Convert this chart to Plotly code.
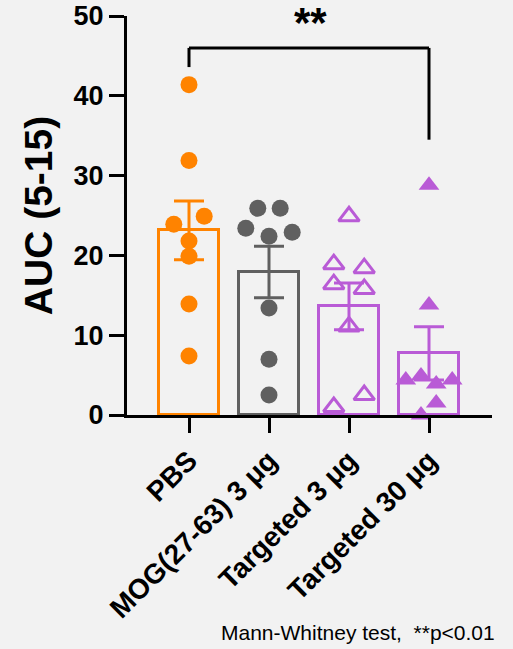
import numpy as np
import plotly.graph_objects as go

# ---------------- data ----------------
categories = ["PBS", "MOG(27-63) 3 μg", "Targeted 3 μg", "Targeted 30 μg"]

pbs_values = [41.4, 31.9, 23.9, 24.9, 21.8, 19.9, 13.9, 7.4]
mog_values = [25.9, 25.9, 23.4, 22.4, 22.9, 13.4, 7.0, 2.5]
t3_values = [24.9, 18.9, 18.4, 16.4, 15.8, 11.1, 2.5, 1.0]
t30_values = [28.8, 13.8, 4.4, 4.9, 4.4, 3.9, 1.5, 0.0]

# horizontal scatter of the dots (category units)
pbs_jitter = [0, 0, -0.19, 0.19, 0, 0, 0, 0]
mog_jitter = [-0.14, 0.14, -0.29, 0.0, 0.29, 0, 0, 0]
t3_jitter = [0, -0.19, 0.19, -0.19, 0.19, 0, 0.19, -0.19]
t30_jitter = [0, 0, -0.29, -0.1, 0.29, 0.09, 0.09, -0.1]

y_ticks = [0, 10, 20, 30, 40, 50]
footnote = "Mann-Whitney test,&nbsp;&nbsp;**p<0.01"
sig_label = "**"

# ---------------- style ----------------
BG = "#f2f2f2"
FONT = "Liberation Sans, Arial, sans-serif"
colors = ["#ff8300", "#606060", "#b95bd6", "#b95bd6"]
symbols = ["circle", "circle", "triangle-up-open", "triangle-up"]
groups = [pbs_values, mog_values, t3_values, t30_values]
jitters = [pbs_jitter, mog_jitter, t3_jitter, t30_jitter]

fig = go.Figure()

for i, (vals, col) in enumerate(zip(groups, colors)):
    arr = np.array(vals)
    mean = arr.mean()
    sem = arr.std(ddof=1) / np.sqrt(len(arr))
    fig.add_trace(go.Bar(
        x=[i], y=[mean], width=0.74,
        marker=dict(color="rgba(0,0,0,0)", line=dict(color=col, width=3)),
        error_y=dict(type="data", array=[sem], visible=True, color=col,
                     thickness=3, width=15),
        showlegend=False, hoverinfo="skip",
    ))

for i, (vals, jit, col, sym) in enumerate(zip(groups, jitters, colors, symbols)):
    fig.add_trace(go.Scatter(
        x=[i + j for j in jit], y=vals, mode="markers",
        marker=dict(symbol=sym, size=17 if "circle" in sym else 18, color=col,
                    line=dict(color=col, width=3 if "open" in sym else 0)),
        showlegend=False, cliponaxis=False,
    ))

# significance bracket PBS vs Targeted 30 μg
sig_top, sig_left_end, sig_right_end = 46.0, 43.6, 34.5
line_style = dict(color="black", width=3)
fig.add_shape(type="line", x0=0, x1=3, y0=sig_top, y1=sig_top, line=line_style)
fig.add_shape(type="line", x0=0, x1=0, y0=sig_top, y1=sig_left_end, line=line_style)
fig.add_shape(type="line", x0=3, x1=3, y0=sig_top, y1=sig_right_end, line=line_style)
fig.add_annotation(x=1.52, y=sig_top, yanchor="bottom", yshift=0, text=sig_label,
                   showarrow=False, font=dict(family=FONT, size=42, color="black", weight="bold"))

fig.add_annotation(xref="paper", yref="paper", x=1.0, xanchor="right", xshift=5, y=-0.546,
                   yanchor="middle", text=footnote, showarrow=False,
                   font=dict(family=FONT, size=21, color="black"))

fig.update_layout(
    template="none",
    width=513, height=649,
    margin=dict(l=127, r=21, t=16, b=234),
    paper_bgcolor=BG, plot_bgcolor=BG,
    font=dict(family=FONT, color="black"),
    bargap=0,
)
fig.update_xaxes(
    range=[-0.775, 3.7875], tickvals=list(range(len(categories))), ticktext=categories,
    tickangle=-45, showline=True, linecolor="black", linewidth=3,
    ticks="outside", ticklen=15, tickwidth=3, tickcolor="black",
    tickfont=dict(family=FONT, size=28, color="black", weight="bold"),
    showgrid=False, zeroline=False, automargin=False,
)
fig.update_yaxes(
    range=[0, 50], tickvals=y_ticks, showline=True, linecolor="black", linewidth=3,
    ticks="outside", ticklen=15, tickwidth=3, tickcolor="black",
    tickfont=dict(family=FONT, size=27, color="black", weight="bold"),
    title=dict(text="AUC (5-15)", font=dict(family=FONT, size=39, color="black", weight="bold"),
               standoff=9),
    showgrid=False, zeroline=False, automargin=False,
)

fig.write_html(
    "out.html",
    config={"displayModeBar": False},
    post_script="document.body.style.margin='0';document.body.style.background='#f2f2f2';",
)
